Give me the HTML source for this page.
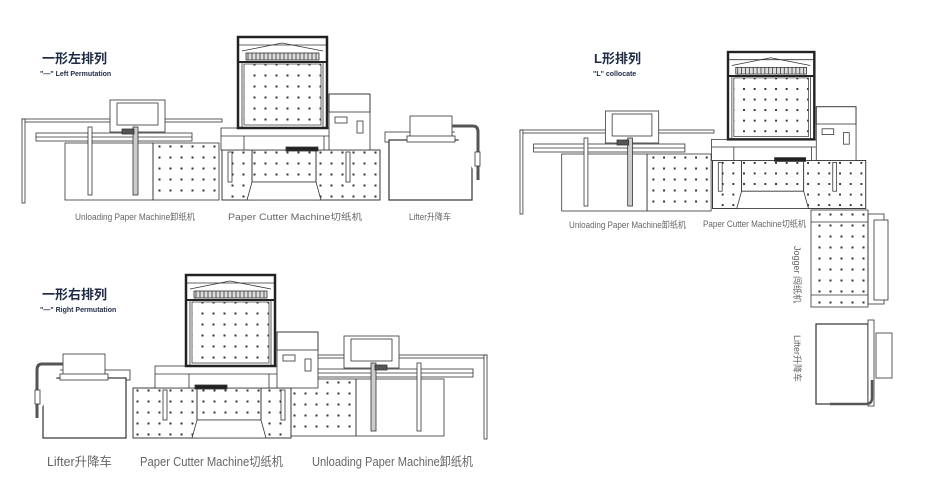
<!DOCTYPE html>
<html><head><meta charset="utf-8"><style>
html,body{margin:0;padding:0;background:#fff;}
svg{display:block;}
.t{font-family:"Liberation Sans","Noto Sans CJK SC",sans-serif;}
.lbl{font-family:"Liberation Sans Narrow","Liberation Sans","Noto Sans CJK SC",sans-serif;fill:#666;}
</style></head><body>
<svg width="950" height="488" viewBox="0 0 950 488" xmlns="http://www.w3.org/2000/svg">
<defs>
<pattern id="dots" x="0" y="0" width="11" height="11" patternUnits="userSpaceOnUse">
<rect x="4.5" y="4.5" width="2" height="2" fill="#333"/>
</pattern>
<g id="cutTop" fill="none" stroke="#333" stroke-width="0.8">
<rect x="0" y="0" width="89" height="91" fill="#fff" stroke="#222" stroke-width="2.5"/>
<rect x="6" y="27" width="77" height="61" fill="url(#dots)" stroke="#444"/>
<line x1="1" y1="8" x2="88" y2="8"/>
<path d="M4 14 L44 6 L85 14"/>
<rect x="8" y="16" width="73" height="7" fill="#ddd"/>
<path d="M10 16v7M14 16v7M18 16v7M22 16v7M26 16v7M30 16v7M34 16v7M38 16v7M42 16v7M46 16v7M50 16v7M54 16v7M58 16v7M62 16v7M66 16v7M70 16v7M74 16v7M78 16v7"/>
<line x1="1" y1="25" x2="88" y2="25" stroke="#222" stroke-width="2"/>
<line x1="4" y1="25" x2="4" y2="90"/><line x1="85" y1="25" x2="85" y2="90"/>
<rect x="91" y="57" width="41" height="56" fill="#fff"/>
<rect x="91" y="57" width="41" height="18"/>
<rect x="97" y="80" width="12" height="6"/>
<rect x="119" y="84" width="6" height="12"/>
</g>
<g id="cutBot" fill="#fff" stroke="#333" stroke-width="0.8">
<rect x="-16" y="113" width="158" height="50"/>
<rect x="14" y="113" width="64" height="32" fill="url(#dots)"/>
<rect x="-16" y="113" width="30" height="50" fill="url(#dots)"/>
<rect x="78" y="113" width="64" height="50" fill="url(#dots)"/>
<path d="M9 163 L14 145 L78 145 L83 163 Z" fill="#fff"/>
<rect x="-17" y="91" width="137" height="22"/>
<line x1="-17" y1="99" x2="120" y2="99"/>
<line x1="6" y1="99" x2="6" y2="113"/><line x1="86" y1="99" x2="86" y2="113"/>
<rect x="48" y="110" width="32" height="4" fill="#222"/>
<rect x="-10" y="115" width="4" height="30"/><rect x="108" y="115" width="4" height="30"/>
</g>
<g id="unload" fill="#fff" stroke="#333" stroke-width="0.8">
<rect x="43" y="24" width="88" height="57"/>
<rect x="131" y="24" width="66" height="57" fill="url(#dots)"/>
<rect x="0" y="0" width="200" height="3"/>
<rect x="0" y="0" width="3" height="84"/>
<rect x="88" y="-19" width="55" height="32"/>
<rect x="95" y="-16" width="41" height="22"/>
<rect x="14" y="14" width="156" height="8"/>
<line x1="14" y1="18" x2="170" y2="18"/>
<rect x="66" y="8" width="4" height="68"/>
<rect x="111" y="8" width="5" height="68" fill="#ccc"/>
<rect x="100" y="10" width="12" height="5" fill="#555"/>
</g>
<g id="lifter" fill="#fff" stroke="#333" stroke-width="0.8">
<rect x="-2" y="0" width="91" height="10"/>
<rect x="2" y="8" width="83" height="60" stroke-width="1.2"/>
<rect x="23" y="-16" width="42" height="22"/>
<rect x="20" y="4" width="48" height="6"/>
<path d="M65 -6 H86 Q91 -6 91 0 V48" stroke-width="3" stroke="#555"/>
<rect x="88" y="20" width="5" height="14"/>
</g>
</defs>

<!-- Left permutation -->
<text x="42" y="63" class="t" font-size="13" font-weight="bold" fill="#1f2a44">一形左排列</text>
<text x="40" y="76" class="t" font-size="7" font-weight="bold" fill="#1f2a44">"—" Left Permutation</text>
<use href="#unload" transform="translate(22,119)"/>
<use href="#cutBot" transform="translate(238,37)"/>
<use href="#cutTop" transform="translate(238,37)"/>
<use href="#lifter" transform="translate(387,132)"/>
<text x="75" y="220" class="lbl" font-size="9" textLength="120" lengthAdjust="spacingAndGlyphs">Unloading Paper Machine卸纸机</text>
<text x="228" y="220" class="lbl" font-size="9" textLength="134" lengthAdjust="spacingAndGlyphs">Paper Cutter Machine切纸机</text>
<text x="409" y="220" class="lbl" font-size="9" textLength="42" lengthAdjust="spacingAndGlyphs">Lifter升降车</text>

<!-- L layout -->
<text x="594" y="63" class="t" font-size="13" font-weight="bold" fill="#1f2a44">L形排列</text>
<text x="593" y="76" class="t" font-size="7" font-weight="bold" fill="#1f2a44">"L" collocate</text>
<use href="#unload" transform="translate(520,130) scale(0.97,1)"/>
<use href="#cutBot" transform="translate(728,52) scale(0.97,0.96)"/>
<use href="#cutTop" transform="translate(728,52) scale(0.97,0.96)"/>
<g fill="#fff" stroke="#333" stroke-width="0.8">
<rect x="868" y="214" width="16" height="90"/>
<rect x="874" y="220" width="14" height="80"/>
<rect x="811" y="210" width="57" height="97" fill="url(#dots)"/>
<line x1="811" y1="222" x2="868" y2="222"/><line x1="811" y1="295" x2="868" y2="295"/>
<rect x="816" y="324" width="52" height="80" stroke-width="1.2"/>
<rect x="868" y="320" width="6" height="86"/>
<rect x="876" y="333" width="16" height="45"/>
<path d="M872 380 V398 Q872 404 866 404 H830" stroke="#555" stroke-width="2.5" fill="none"/>
</g>
<text class="lbl" font-size="9" transform="translate(794,246) rotate(90)">Jogger 闯纸机</text>
<text class="lbl" font-size="9" transform="translate(794,335) rotate(90)">Lifter升降车</text>
<text x="569" y="228" class="lbl" font-size="9" textLength="117" lengthAdjust="spacingAndGlyphs">Unloading Paper Machine卸纸机</text>
<text x="703" y="227" class="lbl" font-size="9" textLength="103" lengthAdjust="spacingAndGlyphs">Paper Cutter Machine切纸机</text>

<!-- Right permutation -->
<text x="42" y="299" class="t" font-size="13" font-weight="bold" fill="#1f2a44">一形右排列</text>
<text x="40" y="312" class="t" font-size="7" font-weight="bold" fill="#1f2a44">"—" Right Permutation</text>
<use href="#unload" transform="translate(487,355) scale(-1,1)"/>
<use href="#cutBot" transform="translate(275,275) scale(-1,1)"/>
<use href="#cutTop" transform="translate(186,275)"/>
<use href="#lifter" transform="translate(128,370) scale(-1,1)"/>
<text x="47" y="466" class="lbl" font-size="12.5" textLength="65" lengthAdjust="spacingAndGlyphs">Lifter升降车</text>
<text x="140" y="466" class="lbl" font-size="12.5" textLength="143" lengthAdjust="spacingAndGlyphs">Paper Cutter Machine切纸机</text>
<text x="312" y="466" class="lbl" font-size="12.5" textLength="161" lengthAdjust="spacingAndGlyphs">Unloading Paper Machine卸纸机</text>
</svg>
</body></html>
